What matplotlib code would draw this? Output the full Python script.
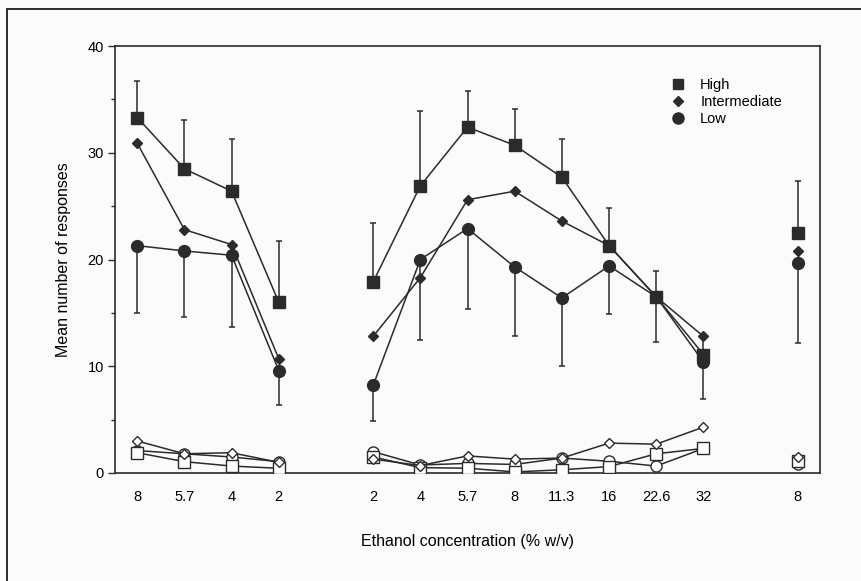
import numpy as np
import matplotlib
matplotlib.use('Agg')
import matplotlib.pyplot as plt
from matplotlib.patches import Rectangle
from matplotlib.lines import Line2D

plt.rcParams['font.family'] = ['Liberation Sans', 'DejaVu Sans']

# Datos
pos = [0, 1, 2, 3, 5, 6, 7, 8, 9, 10, 11, 12, 14]
etiquetas = ['8', '5.7', '4', '2', '2', '4', '5.7', '8', '11.3', '16', '22.6', '32', '8']
grupos = [(0, 4), (4, 12), (12, 13)]

high = [33.3, 28.5, 26.4, 16.0, 17.9, 26.9, 32.4, 30.7, 27.7, 21.3, 16.5, 11.1, 22.5]
high_err = [3.45, 4.6, 4.9, 5.7, 5.5, 7.0, 3.4, 3.4, 3.6, 3.5, 2.4, 1.8, 4.9]
inter = [30.9, 22.8, 21.4, 10.7, 12.8, 18.3, 25.6, 26.4, 23.6, 21.3, 16.5, 12.8, 20.8]
low = [21.3, 20.8, 20.4, 9.6, 8.2, 20.0, 22.9, 19.3, 16.4, 19.4, 16.5, 10.4, 19.7]
low_err = [6.3, 6.2, 6.7, 3.2, 3.3, 7.5, 7.5, 6.5, 6.4, 4.5, 4.2, 3.5, 7.5]

# Simbolos abiertos (cerca de cero)
high_c = [1.9, 1.06, 0.65, 0.44, 1.5, 0.5, 0.45, 0.1, 0.3, 0.6, 1.8, 2.3, 1.1]
inter_c = [3.0, 1.8, 1.9, 1.0, 1.3, 0.7, 1.6, 1.3, 1.4, 2.8, 2.7, 4.3, 1.5]
low_c = [2.1, 1.8, 1.5, 1.06, 2.0, 0.75, 0.9, 0.8, 1.4, 1.1, 0.65, 2.3, 0.8]

col = '#2b2b2b'

fig = plt.figure(figsize=(8.61, 5.81), dpi=100)
fig.patch.set_facecolor('#fbfbfb')
ax = fig.add_axes([0.1336, 0.1859, 0.8188, 0.7349])
ax.set_facecolor('#fbfbfb')

# marco exterior
fig.patches.append(Rectangle((0.008, -0.05), 1.1, 1.0345, transform=fig.transFigure,
                             fill=False, lw=1.4, ec=col))

x = np.array(pos)

def dibujar(vals, marker, ms, fc, err=None, lower=False):
    v = np.array(vals)
    for a, b in grupos:
        ax.plot(x[a:b], v[a:b], '-', color=col, lw=1.1, marker=marker, ms=ms,
                mfc=fc, mec=col, mew=1.0, zorder=3)
    if err is not None:
        e = np.array(err)
        yerr = [e, np.zeros_like(e)] if lower else [np.zeros_like(e), e]
        ax.errorbar(x, v, yerr=yerr, fmt='none', ecolor=col, elinewidth=1.1,
                    capsize=2.5, capthick=1.1, zorder=2)

# controles (abiertos)
dibujar(low_c, 'o', 8, 'white')
dibujar(high_c, 's', 8, 'white')
dibujar(inter_c, 'D', 5.5, 'white')

dibujar(high, 's', 8.5, col, high_err)
dibujar(inter, 'D', 5, col)
dibujar(low, 'o', 8.5, col, low_err, lower=True)

ax.set_xlim(-0.47, 14.47)
ax.set_ylim(0, 40)
ax.set_xticks(pos)
ax.set_xticklabels(etiquetas, fontsize=10.5)
ax.tick_params(axis='x', length=0, pad=12)
ax.set_yticks([0, 10, 20, 30, 40])
ax.set_yticks([5, 15, 25, 35], minor=True)
ax.tick_params(axis='y', direction='out', length=5, width=1, pad=3, labelsize=10.5, color=col)
ax.tick_params(axis='y', which='minor', direction='out', length=3, width=1, color=col)
for s in ax.spines.values():
    s.set_color(col)
    s.set_linewidth(1.2)

ax.set_xlabel('Ethanol concentration (% w/v)', fontsize=11.5, labelpad=22)
ax.set_ylabel('Mean number of responses', fontsize=11.5, labelpad=12)

handles = [Line2D([], [], ls='none', marker='s', ms=7.5, color=col),
           Line2D([], [], ls='none', marker='D', ms=5, color=col),
           Line2D([], [], ls='none', marker='o', ms=8, color=col)]
ax.legend(handles, ['High', 'Intermediate', 'Low'], loc='upper left',
          bbox_to_anchor=(0.77, 0.955), frameon=False, fontsize=10.5,
          handlelength=1.0, handletextpad=1.0, labelspacing=0.2, numpoints=1)

plt.savefig('out.png', dpi=100, facecolor=fig.get_facecolor())
